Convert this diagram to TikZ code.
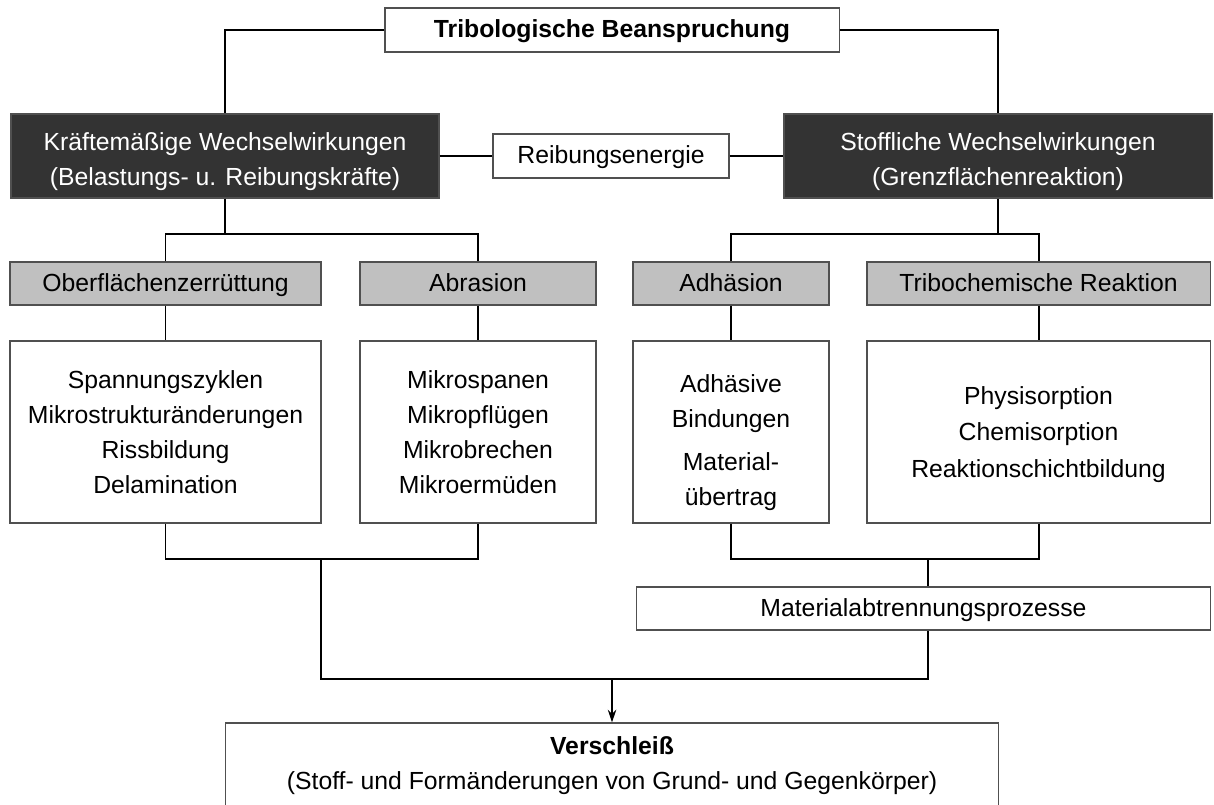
\documentclass[tikz,border=0pt]{standalone}
\usepackage{fontspec}
\setmainfont{Liberation Sans}
\usetikzlibrary{arrows.meta}

\definecolor{darkbox}{HTML}{333333}
\definecolor{greybox}{HTML}{C0C0C0}
\definecolor{rimline}{HTML}{505050}

\begin{document}
\begin{tikzpicture}[x=0.025cm, y=-0.025cm,
    box/.style={draw=rimline, line width=0.8pt, fill=white, inner sep=0pt, align=center,
      font=\fontsize{17.6}{24.8}\selectfont},
    oneline/.style={box, text height=14pt, text depth=3.2pt},
    darkcell/.style={box, fill=darkbox, text=white, minimum width=10.7cm, minimum height=2.1cm},
    greycell/.style={oneline, fill=greybox, minimum height=1.075cm},
    listcell/.style={box, minimum height=4.55cm},
    link/.style={draw=black, line width=1.4pt}]
  \useasboundingbox (0,0) rectangle (1214,804);
  \clip (0,0) rectangle (1214,804);
  \node[oneline, minimum width=11.35cm, minimum height=1.1cm, font=\fontsize{17.6}{24.8}\selectfont\bfseries] (tb) at (612,30) {Tribologische Beanspruchung};
  \node[darkcell] (kw) at (225,156) {\\[-3.5pt]Kräftemäßige Wechselwirkungen\\(Belastungs- u. Reibungskräfte)};
  \node[darkcell] (sw) at (998,156) {\\[-3.5pt]Stoffliche Wechselwirkungen\\(Grenzflächenreaktion)};
  \node[oneline, minimum width=5.9cm, minimum height=1.1cm] (re) at (611,156) {Reibungsenergie};
  \node[greycell, minimum width=7.775cm] (ob) at (165.5,283.5) {Oberflächenzerrüttung};
  \node[greycell, minimum width=5.9cm] (ab) at (478,283.5) {Abrasion};
  \node[greycell, minimum width=4.9cm] (ad) at (731,283.5) {Adhäsion};
  \node[greycell, minimum width=8.575cm] (tc) at (1038.5,283.5) {Tribochemische Reaktion};
  \node[listcell, minimum width=7.775cm] (obl) at (165.5,432) {Spannungszyklen\\Mikrostrukturänderungen\\Rissbildung\\Delamination};
  \node[listcell, minimum width=5.9cm] (abl) at (478,432) {Mikrospanen\\Mikropflügen\\Mikrobrechen\\Mikroermüden};
  \node[listcell, minimum width=4.9cm] (adl) at (731,432) {\\[3.5pt]Adhäsive\\Bindungen\\[6pt]Material-\\übertrag};
  \node[listcell, minimum width=8.575cm, font=\fontsize{17.6}{26}\selectfont] (tcl) at (1038.5,432) {\\[-10pt]Physisorption\\Chemisorption\\Reaktionschichtbildung};
  \node[oneline, minimum width=14.325cm, minimum height=1.075cm] (ma) at (923.5,608.5) {Materialabtrennungsprozesse};
  \node[box, minimum width=19.3cm, minimum height=2.15cm] (vs) at (612,766) {\textbf{Verschleiß}\\(Stoff- und Formänderungen von Grund- und Gegenkörper)};
  \coordinate (kj) at (225,234);
  \coordinate (sj) at (998,234);
  \coordinate (lj) at (321,559);
  \coordinate (rj) at (928,559);
  \coordinate (ll) at (321,679);
  \coordinate (lr) at (928,679);
  \coordinate (bj) at (612,679);
  \draw[link] (tb.west) -| (kw.north);
  \draw[link] (tb.east) -| (sw.north);
  \draw[link] (kw.east) -- (re.west);
  \draw[link] (re.east) -- (sw.west);
  \draw[link] (kw.south) -- (kj);
  \draw[link] (sw.south) -- (sj);
  \draw[link] (ob.north) |- (kj) -| (ab.north);
  \draw[link] (ad.north) |- (sj) -| (tc.north);
  \draw[link] (ob.south) -- (obl.north);
  \draw[link] (ab.south) -- (abl.north);
  \draw[link] (ad.south) -- (adl.north);
  \draw[link] (tc.south) -- (tcl.north);
  \draw[link] (obl.south) |- (lj) -| (abl.south);
  \draw[link] (adl.south) |- (rj) -| (tcl.south);
  \draw[link] (rj) -- (ma.north -| rj);
  \draw[link] (lj) -- (ll) -- (lr) -- (ma.south -| lr);
  \draw[link, line width=1pt, -{Stealth[length=9pt, width=6pt]}] (bj) -- (vs.north);
\end{tikzpicture}
\end{document}
